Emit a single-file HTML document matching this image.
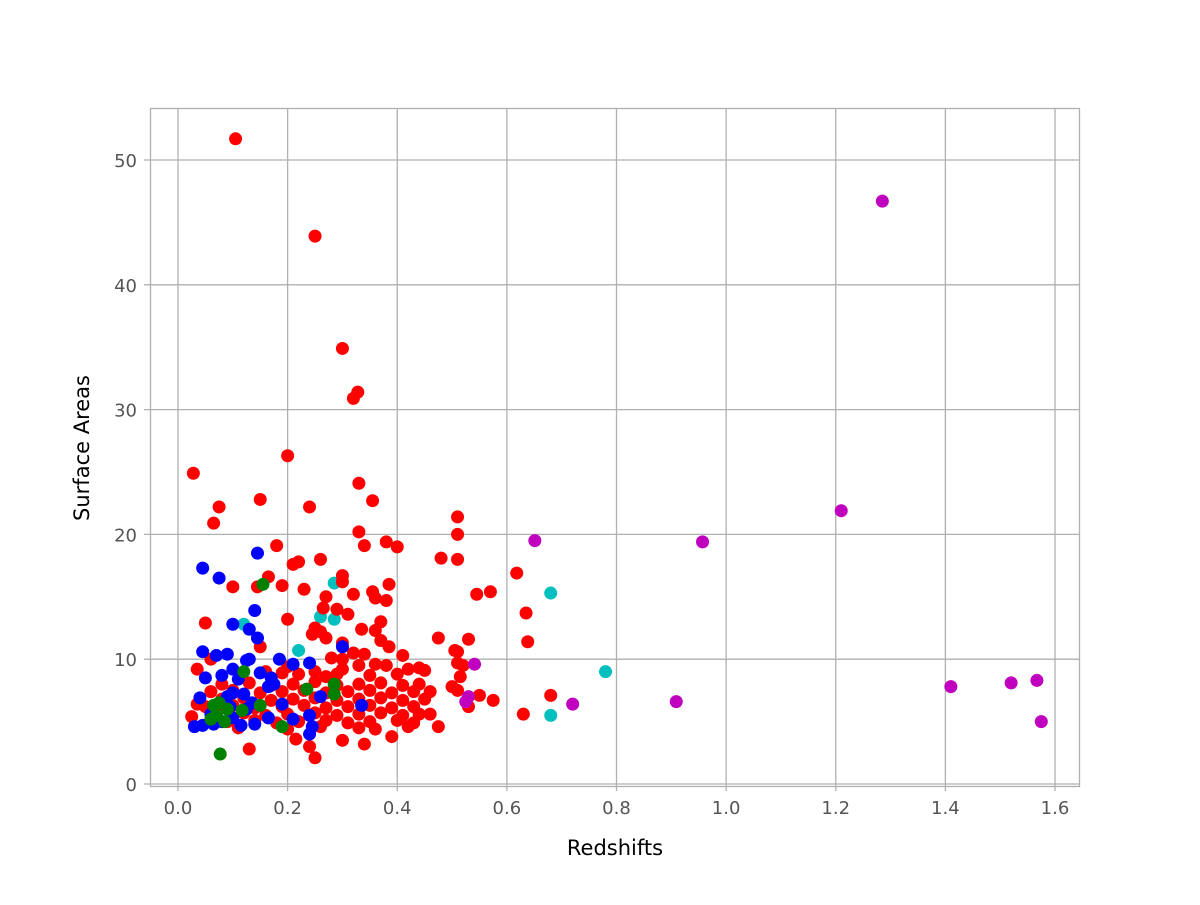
<!DOCTYPE html>
<html><head><meta charset="utf-8"><style>
html,body{margin:0;padding:0;background:#fff;}
svg text{font-family:"DejaVu Sans","Liberation Sans",sans-serif;}
</style></head><body>
<svg id="chart" width="1200" height="900" xmlns="http://www.w3.org/2000/svg">
<rect x="0" y="0" width="1200" height="900" fill="#fff"/>
<g id="grid"></g>
<g id="ticks"></g>
<g id="points"></g>
<rect x="150.5" y="108.5" width="929" height="678" fill="none" stroke="#b0b0b0" stroke-width="1.3"/>
<text x="615" y="855" font-size="21" text-anchor="middle" fill="#000">Redshifts</text>
<text transform="translate(89,448) rotate(-90)" font-size="21" text-anchor="middle" fill="#000">Surface Areas</text>
</svg>
<script>
const xTicks=[0.0,0.2,0.4,0.6,0.8,1.0,1.2,1.4,1.6];
const xTickLabels=["0.0","0.2","0.4","0.6","0.8","1.0","1.2","1.4","1.6"];
const yTicks=[0,10,20,30,40,50];
const yTickLabels=["0","10","20","30","40","50"];
const magentaX=[1.285,1.21,0.957,0.651,1.41,1.52,1.567,1.575,0.909,0.72,0.541,0.525,0.53];
const magentaY=[46.7,21.9,19.4,19.5,7.8,8.1,8.3,5.0,6.6,6.4,9.6,6.6,7.0];
const cyanX=[0.68,0.78,0.68,0.285,0.285,0.22,0.12,0.26];
const cyanY=[15.3,9.0,5.5,16.1,13.2,10.7,12.8,13.4];
const greenX=[0.155,0.077,0.19,0.235,0.285,0.285,0.15,0.117,0.12,0.065,0.07,0.075,0.085,0.06,0.09];
const greenY=[16.0,2.4,4.6,7.6,8.0,7.2,6.3,5.9,9.0,6.3,5.5,6.5,5.0,5.2,6.0];
const blueX=[0.045,0.075,0.145,0.1,0.14,0.13,0.145,0.045,0.07,0.09,0.125,0.13,0.185,0.21,0.24,0.3,0.05,0.15,0.17,0.1,0.08,0.11,0.165,0.26,0.04,0.09,0.1,0.12,0.135,0.19,0.165,0.21,0.24,0.24,0.245,0.335,0.03,0.045,0.065,0.08,0.1,0.115,0.14,0.06,0.095,0.175,0.125];
const blueY=[17.3,16.5,18.5,12.8,13.9,12.4,11.7,10.6,10.3,10.4,9.9,10.0,10.0,9.6,9.7,11.0,8.5,8.9,8.5,9.2,8.7,8.4,7.8,7.0,6.9,7.0,7.3,7.2,6.5,6.4,5.3,5.2,5.5,4.0,4.6,6.3,4.6,4.7,4.8,5.0,5.3,4.7,4.8,5.6,6.2,8.0,6.0];
const redX=[0.105,0.25,0.3,0.328,0.32,0.2,0.028,0.33,0.075,0.24,0.15,0.355,0.065,0.51,0.33,0.51,0.4,0.38,0.34,0.18,0.48,0.51,0.26,0.22,0.21,0.618,0.3,0.165,0.3,0.385,0.1,0.19,0.23,0.145,0.355,0.32,0.36,0.38,0.27,0.545,0.57,0.265,0.29,0.31,0.635,0.2,0.05,0.37,0.25,0.245,0.26,0.335,0.36,0.37,0.475,0.53,0.638,0.27,0.3,0.15,0.385,0.505,0.51,0.41,0.34,0.32,0.51,0.52,0.515,0.5,0.51,0.55,0.575,0.53,0.63,0.68,0.46,0.475,0.42,0.43,0.39,0.34,0.3,0.215,0.24,0.25,0.13,0.035,0.035,0.025,0.06,0.3,0.28,0.36,0.38,0.42,0.44,0.45,0.4,0.35,0.29,0.27,0.22,0.19,0.16,0.2,0.25,0.3,0.33,
0.08,0.13,0.17,0.21,0.25,0.29,0.33,0.37,0.41,0.44,
0.06,0.1,0.15,0.19,0.23,0.27,0.31,0.35,0.39,0.43,0.46,
0.08,0.12,0.17,0.21,0.25,0.29,0.33,0.37,0.41,0.45,
0.05,0.1,0.14,0.19,0.23,0.27,0.31,0.35,0.39,0.43,
0.07,0.12,0.16,0.2,0.25,0.29,0.33,0.37,0.41,0.44,
0.09,0.14,0.18,0.22,0.27,0.31,0.35,0.4,
0.11,0.2,0.26,0.33,0.36];
const redY=[51.7,43.9,34.9,31.4,30.9,26.3,24.9,24.1,22.2,22.2,22.8,22.7,20.9,21.4,20.2,20.0,19.0,19.4,19.1,19.1,18.1,18.0,18.0,17.8,17.6,16.9,16.7,16.6,16.2,16.0,15.8,15.9,15.6,15.8,15.4,15.2,14.9,14.7,15.0,15.2,15.4,14.1,14.0,13.6,13.7,13.2,12.9,13.0,12.5,12.0,12.2,12.4,12.3,11.5,11.7,11.6,11.4,11.7,11.3,11.0,11.0,10.7,10.6,10.3,10.4,10.5,9.7,9.5,8.6,7.8,7.5,7.1,6.7,6.2,5.6,7.1,5.6,4.6,4.6,4.9,3.8,3.2,3.5,3.6,3.0,2.1,2.8,9.2,6.4,5.4,10.0,10.0,10.1,9.6,9.5,9.2,9.3,9.1,8.8,8.7,8.8,8.6,8.8,8.9,9.0,9.4,9.0,9.2,9.5,
8.0,8.1,7.9,8.0,8.2,7.9,8.0,8.1,7.9,8.0,
7.4,7.5,7.3,7.4,7.5,7.3,7.4,7.5,7.3,7.4,7.4,
6.8,6.9,6.7,6.8,6.9,6.7,6.8,6.9,6.7,6.8,
6.2,6.3,6.1,6.2,6.3,6.1,6.2,6.3,6.1,6.2,
5.6,5.7,5.5,5.6,5.7,5.5,5.6,5.7,5.5,5.6,
5.0,5.1,4.9,5.0,5.1,4.9,5.0,5.1,
4.5,4.4,4.6,4.5,4.4];
const NS="http://www.w3.org/2000/svg";
const sx=v=>178+v*(1055-178)/1.6;
const sy=v=>784-v*(784-160)/50;
const grid=document.getElementById('grid'),ticks=document.getElementById('ticks'),pts=document.getElementById('points');
function mk(tag,attrs,parent){const e=document.createElementNS(NS,tag);for(const k in attrs)e.setAttribute(k,attrs[k]);parent.appendChild(e);return e;}
xTicks.forEach((t,i)=>{
  const l=mk('line',{x1:sx(t),x2:sx(t),y1:108,y2:791,stroke:'#b0b0b0','stroke-width':1.3},grid);
  
  
  const tx=mk('text',{x:sx(t),y:814,'font-size':18,'text-anchor':'middle',fill:'#555'},ticks);
  tx.textContent=xTickLabels[i];
  
  
});
yTicks.forEach((t,i)=>{
  const l=mk('line',{x1:144,x2:1080,y1:sy(t),y2:sy(t),stroke:'#b0b0b0','stroke-width':1.3},grid);
  
  
  const tx=mk('text',{x:137,y:sy(t)+7,'font-size':18,'text-anchor':'end',fill:'#555'},ticks);
  tx.textContent=yTickLabels[i];
  
  
});
function series(xs,ys,color,name){
  xs.forEach((x,i)=>{
    const c=mk('circle',{cx:sx(x),cy:sy(ys[i]),r:6.5,fill:color},pts);
    
    
  });
}
series(cyanX,cyanY,'#00bfbf','cyan-point');
series(redX,redY,'#ff0000','red-point');
series(blueX,blueY,'#0000ff','blue-point');
series(greenX,greenY,'#008000','green-point');
series(magentaX,magentaY,'#bf00bf','magenta-point');
</script>
</body></html>
